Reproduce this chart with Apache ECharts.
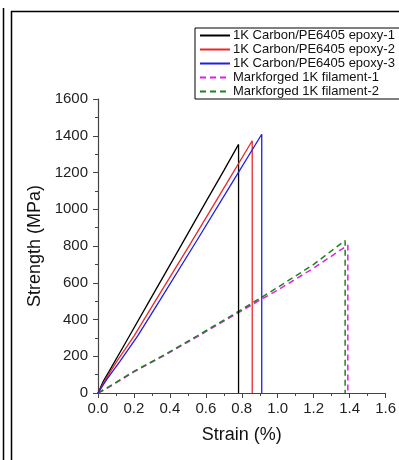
<!DOCTYPE html>
<html>
<head>
<meta charset="utf-8">
<script src="https://cdn.jsdelivr.net/npm/echarts@6/dist/echarts.min.js"></script>
<style>
  html, body { margin: 0; padding: 0; background: #fff; }
  #chart { width: 399px; height: 460px; }
</style>
</head>
<body>
<div id="chart"></div>
<script>
const seriesNames = [
  "1K Carbon/PE6405 epoxy-1",
  "1K Carbon/PE6405 epoxy-2",
  "1K Carbon/PE6405 epoxy-3",
  "Markforged 1K filament-1",
  "Markforged 1K filament-2"
];

const xTicks = [0, 0.2, 0.4, 0.6, 0.8, 1.0, 1.2, 1.4, 1.6];
const yTicks = [0, 200, 400, 600, 800, 1000, 1200, 1400, 1600];

// strain (%) / strength (MPa)
const epoxy1Strain = [0, 0.03, 0.06, 0.15, 0.29, 0.45, 0.6, 0.7, 0.782, 0.782];
const epoxy1Stress = [0, 65, 115, 268, 508, 782, 1040, 1210, 1353, 0];

const epoxy2Strain = [0, 0.04, 0.1, 0.2, 0.322, 0.5, 0.7, 0.858, 0.858];
const epoxy2Stress = [0, 70, 165, 310, 505, 790, 1115, 1373, 0];

const epoxy3Strain = [0, 0.05, 0.12, 0.22, 0.345, 0.55, 0.75, 0.911, 0.911];
const epoxy3Stress = [0, 75, 170, 310, 505, 830, 1150, 1408, 0];

const fil1Strain = [0, 0.05, 0.2, 0.37, 0.55, 0.75, 0.9, 1.0, 1.2, 1.39, 1.39];
const fil1Stress = [0, 25, 115, 205, 305, 420, 505, 560, 680, 805, 0];

const fil2Strain = [0, 0.05, 0.2, 0.37, 0.55, 0.75, 0.9, 1.0, 1.2, 1.375, 1.375];
const fil2Stress = [0, 28, 118, 208, 310, 425, 515, 575, 700, 830, 0];

const colors = ["#000000", "#e8282b", "#2020e0", "#e020e0", "#208020"];

function zip(xs, ys) {
  return xs.map((x, i) => [x, ys[i]]);
}

const chart = echarts.init(document.getElementById("chart"));

const axisFont = { color: "#222", fontSize: 15, fontFamily: "Liberation Sans" };
const nameFont = { color: "#111", fontSize: 18, fontFamily: "Liberation Sans" };

const mkLine = (i, xs, ys, dashed) => ({
  name: seriesNames[i],
  type: "line",
  data: zip(xs, ys),
  symbol: "none",
  animation: false,
  color: colors[i],
  lineStyle: { color: colors[i], width: dashed ? 1.5 : 1.3, type: dashed ? [6, 4] : "solid" },
  z: dashed ? (i === 4 ? 4 : 3) : 5
});

chart.setOption({
  backgroundColor: "#fff",
  grid: { left: 98, right: 8, top: 99, bottom: 67 },
  legend: {
    orient: "vertical",
    left: 195,
    top: 28,
    itemWidth: 30,
    itemHeight: 10,
    itemGap: 1,
    padding: [1, 6, 1, 4],
    borderColor: "#000",
    borderWidth: 1,
    itemStyle: { opacity: 0 },
    textStyle: { color: "#111", fontSize: 13, fontFamily: "Liberation Sans", padding: [0, 0, 0, -2] },
    data: seriesNames
  },
  xAxis: {
    type: "value",
    min: 0,
    max: 1.6,
    interval: 0.2,
    name: "Strain (%)",
    nameLocation: "middle",
    nameGap: 33,
    nameTextStyle: nameFont,
    axisLine: { lineStyle: { color: "#444", width: 1.2 } },
    axisTick: { show: true, inside: false, length: 5, lineStyle: { color: "#444" } },
    minorTick: { show: true, splitNumber: 2, length: 3, lineStyle: { color: "#444" } },
    splitLine: { show: false },
    axisLabel: Object.assign({ margin: 8, formatter: v => xTicks.includes(+v.toFixed(1)) ? v.toFixed(1) : "" }, axisFont)
  },
  yAxis: {
    type: "value",
    min: 0,
    max: 1600,
    interval: 200,
    name: "Strength (MPa)",
    nameLocation: "middle",
    nameGap: 48,
    nameTextStyle: nameFont,
    axisLine: { show: true, lineStyle: { color: "#444", width: 1.2 } },
    axisTick: { show: true, inside: false, length: 5, lineStyle: { color: "#444" } },
    minorTick: { show: true, splitNumber: 2, length: 3, lineStyle: { color: "#444" } },
    splitLine: { show: false },
    axisLabel: Object.assign({ margin: 10, formatter: v => yTicks.includes(v) ? String(v) : "" }, axisFont)
  },
  series: [
    mkLine(0, epoxy1Strain, epoxy1Stress, false),
    mkLine(1, epoxy2Strain, epoxy2Stress, false),
    mkLine(2, epoxy3Strain, epoxy3Stress, false),
    mkLine(3, fil1Strain, fil1Stress, true),
    mkLine(4, fil2Strain, fil2Stress, true)
  ],
  graphic: [
    { type: "line", shape: { x1: 3.5, y1: 8, x2: 3.5, y2: 460 }, style: { stroke: "#000", lineWidth: 1.5 } },
    { type: "line", shape: { x1: 11.5, y1: 11, x2: 11.5, y2: 460 }, style: { stroke: "#000", lineWidth: 1.5 } },
    { type: "line", shape: { x1: 11, y1: 11.5, x2: 399, y2: 11.5 }, style: { stroke: "#000", lineWidth: 1.5 } }
  ]
});
</script>
</body>
</html>
